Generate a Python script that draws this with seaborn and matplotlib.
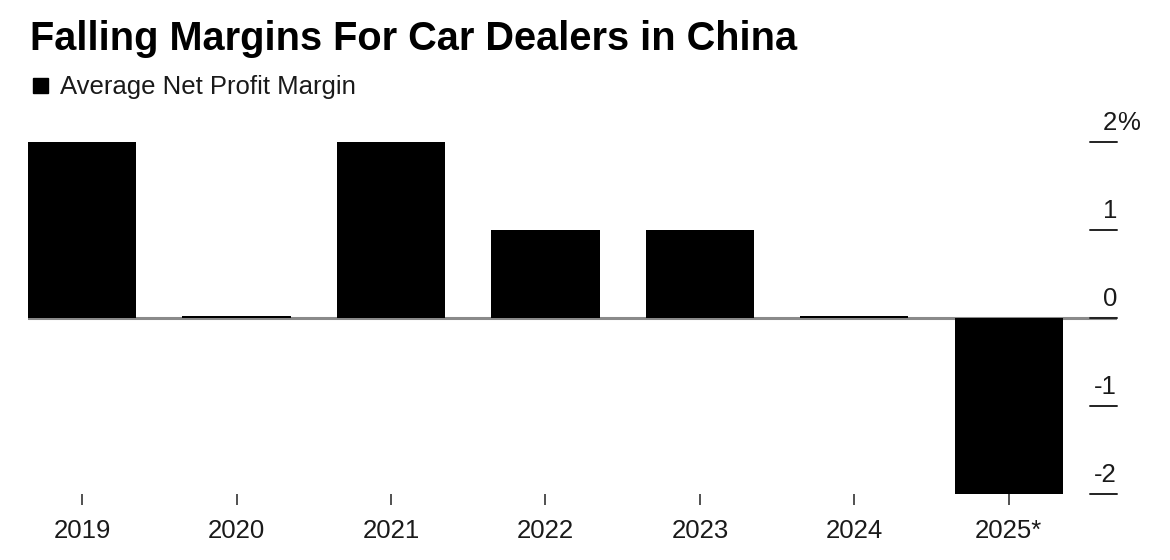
import matplotlib
matplotlib.use("Agg")
import matplotlib.pyplot as plt
import matplotlib.transforms as mtransforms
import seaborn as sns
import pandas as pd

years = ["2019", "2020", "2021", "2022", "2023", "2024", "2025*"]
margins = [2.0, 0.02, 2.0, 1.0, 1.0, 0.02, -2.0]
ytick_values = [2, 1, 0, -1, -2]
ytick_labels = ["2", "1", "0", "-1", "-2"]
title = "Falling Margins For Car Dealers in China"
legend_label = "Average Net Profit Margin"

sns.set_theme(style="white")
plt.rcParams["font.family"] = ["Liberation Sans", "DejaVu Sans"]

df = pd.DataFrame({"year": years, "margin": margins})

fig = plt.figure(figsize=(11.7, 5.6), dpi=100)
ax = fig.add_axes([28 / 1170, (560 - 494) / 560, (1117 - 28) / 1170, (494 - 142) / 560])

ax.axhline(0, color="#8a8a8a", lw=2.2, zorder=2)
sns.barplot(data=df, x="year", y="margin", color="black", saturation=1,
            width=0.7, ax=ax, zorder=3, linewidth=0, edgecolor="none")

ax.set_xlim(-0.35, 6.70)
ax.set_ylim(-2.0, 2.0)
for s in ax.spines.values():
    s.set_visible(False)
ax.set_xlabel("")
ax.set_ylabel("")
ax.set_yticks([])
ax.tick_params(axis="x", bottom=True, length=8, width=1.2, color="#333333",
               pad=10, labelsize=18.5, labelcolor="#1a1a1a")

trans = mtransforms.blended_transform_factory(ax.transAxes, ax.transData)
for v, lab in zip(ytick_values, ytick_labels):
    ax.plot([1 - 27 / 1089, 1.0], [v, v], transform=trans, color="#222222",
            lw=1.4, clip_on=False, zorder=4)
    off = mtransforms.offset_copy(trans, fig=fig, x=0, y=12, units="dots")
    ax.text(1.0, v, lab, transform=off, ha="right", va="baseline",
            fontsize=18.5, color="#1a1a1a")
    if lab == "2":
        ax.text(1.0, v, "%", transform=off, ha="left", va="baseline",
                fontsize=18.5, color="#1a1a1a")

fig.text(30 / 1170, 1 - 50 / 560, title, fontsize=28.6, fontweight="bold",
         color="black", ha="left", va="baseline")
fig.patches.append(plt.Rectangle((33 / 1170, 1 - 93 / 560), 15 / 1170, 15 / 560,
                                 transform=fig.transFigure, color="black"))
fig.text(60 / 1170, 1 - 94 / 560, legend_label, fontsize=18.5,
         color="#1a1a1a", ha="left", va="baseline")

fig.savefig("out.png", dpi=100, facecolor="white")
